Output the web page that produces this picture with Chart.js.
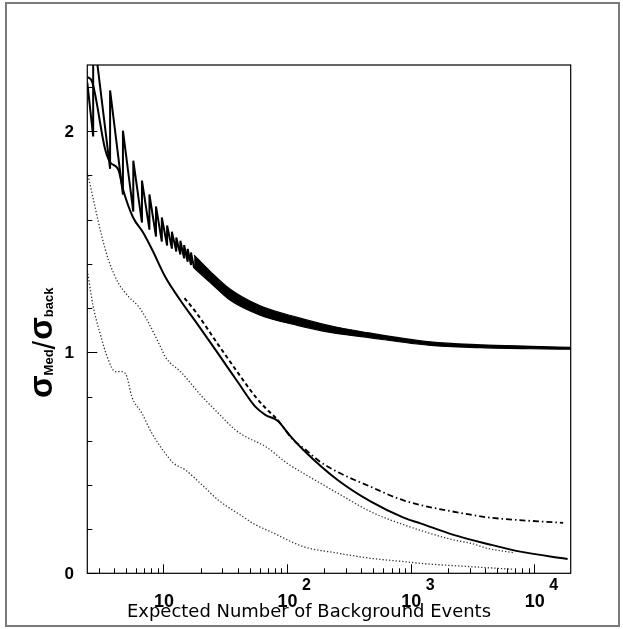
<!DOCTYPE html>
<html lang="en">
<head>
<meta charset="UTF-8" />
<title>Sigma Med / Sigma back</title>
<script src="https://cdn.jsdelivr.net/npm/chart.js"></script>
<style>
    html, body { margin: 0; padding: 0; background: #fff; }
    #wrap { width: 623px; height: 629px; }
    canvas { display: block; }
</style>
</head>
<body>
<div id="wrap"><canvas id="sigma" width="623" height="629"></canvas></div>
<script>
    // axis ranges and tick labels
    const xMin = 2.42, xMax = 19700, yMin = 0, yMax = 2.3;
    const xMajor = [10, 100, 1000, 10000];
    const xBase = ['10', '10', '10', '10'];
    const xExp = ['', '2', '3', '4'];
    const yMajor = [0, 1, 2];
    const yLabels = ['0', '1', '2'];

    // discrete (sawtooth) curve, first teeth
    const sawX = [2.42, 2.7, 2.7, 3.7, 3.7, 4.7, 4.7, 5.7, 5.7, 6.7, 6.7, 7.7, 7.7, 8.7, 8.7, 9.7, 9.7, 10.7, 10.7, 11.7, 11.7, 12.7, 12.7, 13.7, 13.7, 14.7, 14.7, 15.7, 15.7, 16.7, 16.7, 17.7];
    const sawY = [2.22, 1.977, 2.46, 1.83, 2.185, 1.714, 2.003, 1.637, 1.867, 1.587, 1.777, 1.555, 1.714, 1.524, 1.66, 1.501, 1.61, 1.483, 1.574, 1.469, 1.546, 1.456, 1.519, 1.442, 1.505, 1.425, 1.485, 1.41, 1.468, 1.395, 1.452, 1.381];

    // dense part of the sawtooth: upper / lower envelope
    const bandX = [17.7, 24, 34.7, 60.6, 121, 224, 415, 1450, 3680, 9350, 19700];
    const bandHi = [1.44, 1.365, 1.285, 1.21, 1.158, 1.12, 1.092, 1.047, 1.034, 1.027, 1.022];
    const bandLo = [1.381, 1.315, 1.235, 1.168, 1.122, 1.09, 1.07, 1.031, 1.021, 1.016, 1.014];

    // smooth solid curve
    const solidX = [2.42, 2.64, 3.37, 3.7, 4.31, 4.71, 5.68, 6.84, 8.09, 10.3, 13.6, 18.1, 27.7, 40.3, 55.3, 66.6, 83.7, 106, 135, 255, 473, 875, 1200, 2222, 4190, 7700, 18600];
    const solidY = [2.246, 2.226, 1.92, 1.86, 1.827, 1.737, 1.61, 1.542, 1.465, 1.343, 1.238, 1.141, 0.994, 0.862, 0.754, 0.717, 0.690, 0.622, 0.559, 0.423, 0.325, 0.252, 0.226, 0.174, 0.133, 0.098, 0.065];

    // dashed part, then dash-dot part
    const dashX = [14.8, 18.1, 27.7, 40.3, 55.3, 66.6, 84];
    const dashY = [1.245, 1.185, 1.035, 0.905, 0.80, 0.749, 0.695];
    const dotDashX = [84, 112, 135, 185, 255, 473, 875, 3056, 4190, 17100];
    const dotDashY = [0.695, 0.604, 0.568, 0.505, 0.459, 0.392, 0.33, 0.265, 0.253, 0.228];

    // dotted curves
    const dotAX = [2.42, 2.79, 3.17, 3.58, 4.31, 5.2, 6.27, 7.33, 9.7, 10.3, 14.1, 20.5, 27.7, 38.1, 45.9, 66.7, 100, 135, 258, 473, 875, 2222, 3056, 4190, 6820];
    const dotAY = [1.815, 1.66, 1.525, 1.42, 1.314, 1.253, 1.208, 1.148, 1.012, 0.981, 0.906, 0.80, 0.725, 0.649, 0.619, 0.574, 0.498, 0.453, 0.362, 0.279, 0.22, 0.151, 0.136, 0.113, 0.093];
    const dotBX = [2.42, 2.70, 3.06, 3.58, 4.06, 4.6, 5.05, 5.54, 6.68, 8.05, 10.3, 12.1, 15.0, 20.5, 27.7, 43.7, 54.5, 73.2, 135, 258, 473, 875, 1200, 3056, 6820];
    const dotBY = [1.37, 1.208, 1.088, 0.966, 0.913, 0.913, 0.891, 0.80, 0.725, 0.634, 0.544, 0.498, 0.468, 0.40, 0.332, 0.257, 0.222, 0.189, 0.121, 0.091, 0.068, 0.053, 0.045, 0.03, 0.018];

    const pts = (xs, ys) => xs.map((x, i) => ({ x: x, y: ys[i] }));

    const base = { showLine: true, pointRadius: 0, borderColor: '#000', fill: false };

    const datasets = [
        { ...base, label: 'saw', data: pts(sawX, sawY), borderWidth: 2, tension: 0, borderJoinStyle: 'bevel' },
        { ...base, label: 'bandHi', data: pts(bandX, bandHi), borderWidth: 1.2, cubicInterpolationMode: 'monotone' },
        { ...base, label: 'bandLo', data: pts(bandX, bandLo), borderWidth: 1.2, cubicInterpolationMode: 'monotone', fill: '-1', backgroundColor: '#000' },
        { ...base, label: 'solid', data: pts(solidX, solidY), borderWidth: 2, cubicInterpolationMode: 'monotone' },
        { ...base, label: 'dashed', data: pts(dashX, dashY), borderWidth: 2, borderDash: [4, 3], cubicInterpolationMode: 'monotone' },
        { ...base, label: 'dashdot', data: pts(dotDashX, dotDashY), borderWidth: 1.8, borderDash: [6, 3, 1.5, 3], cubicInterpolationMode: 'monotone' },
        { ...base, label: 'dotA', data: pts(dotAX, dotAY), borderWidth: 1.3, borderColor: '#333', borderDash: [1.3, 2], cubicInterpolationMode: 'monotone' },
        { ...base, label: 'dotB', data: pts(dotBX, dotBY), borderWidth: 1.3, borderColor: '#333', borderDash: [1.3, 2], cubicInterpolationMode: 'monotone' }
    ];

    // ROOT-like frame, inward ticks, labels and titles
    const rootFrame = {
        id: 'rootFrame',
        afterDraw(chart) {
            const { ctx, chartArea: a } = chart;
            const sx = chart.scales.x, sy = chart.scales.y;
            ctx.save();

            // canvas border
            ctx.strokeStyle = '#7a7a7a';
            ctx.lineWidth = 2;
            ctx.strokeRect(6, 3, 613, 623);

            // frame
            ctx.strokeStyle = '#000';
            ctx.lineWidth = 1.2;
            ctx.strokeRect(a.left, a.top, a.right - a.left, a.bottom - a.top);

            // y ticks
            ctx.lineWidth = 1;
            ctx.beginPath();
            for (let k = 0; k <= 11; k++) {
                const v = k * 0.2;
                const py = Math.round(sy.getPixelForValue(v)) + 0.5;
                const len = (k % 5 === 0) ? 10 : 5;
                ctx.moveTo(a.left, py);
                ctx.lineTo(a.left + len, py);
            }
            // x ticks
            for (let d = 0; d <= 4; d++) {
                for (let m = 1; m <= 9; m++) {
                    const v = m * Math.pow(10, d);
                    if (v < xMin || v > xMax) continue;
                    const px = Math.round(sx.getPixelForValue(v)) + 0.5;
                    const len = (m === 1) ? 9 : 5;
                    ctx.moveTo(px, a.bottom);
                    ctx.lineTo(px, a.bottom - len);
                }
            }
            ctx.stroke();

            // y labels
            ctx.fillStyle = '#000';
            ctx.font = 'bold 17px "Liberation Sans", Arial, sans-serif';
            ctx.textAlign = 'right';
            ctx.textBaseline = 'middle';
            yMajor.forEach((v, i) => {
                ctx.fillText(yLabels[i], 74, sy.getPixelForValue(v) + 1);
            });

            // x labels with exponents
            ctx.textBaseline = 'alphabetic';
            xMajor.forEach((v, i) => {
                const px = sx.getPixelForValue(v);
                ctx.font = 'bold 18px "Liberation Sans", Arial, sans-serif';
                ctx.textAlign = 'center';
                ctx.fillText(xBase[i], px + 0.5, 607);
                if (xExp[i]) {
                    ctx.font = 'bold 16px "Liberation Sans", Arial, sans-serif';
                    ctx.textAlign = 'left';
                    ctx.fillText(xExp[i], px + 15, 590);
                }
            });

            // x title
            const xt = 'Expected Number of Background Events';
            ctx.font = '17px "DejaVu Sans", sans-serif';
            ctx.textAlign = 'left';
            const w = ctx.measureText(xt).width;
            ctx.save();
            ctx.translate(127, 617);
            ctx.scale(364 / w, 1);
            ctx.fillText(xt, 0, 0);
            ctx.restore();

            // y title: sigma_Med / sigma_back, rotated
            ctx.save();
            ctx.translate(53, 398);
            ctx.rotate(-Math.PI / 2);
            ctx.textAlign = 'left';
            ctx.textBaseline = 'alphabetic';
            const big = 'bold 33px "Liberation Sans", Arial, sans-serif';
            const sub = 'bold 13px "Liberation Sans", Arial, sans-serif';
            let cx = 0;
            ctx.font = big; ctx.fillText('\u03C3', cx, -1); cx += ctx.measureText('\u03C3').width;
            ctx.font = sub; ctx.fillText('Med', cx, 0); cx += ctx.measureText('Med').width;
            ctx.font = '31px "Liberation Sans", Arial, sans-serif'; ctx.fillText('/', cx, 2); cx += ctx.measureText('/').width + 1;
            ctx.font = big; ctx.fillText('\u03C3', cx, -1); cx += ctx.measureText('\u03C3').width;
            ctx.font = sub; ctx.fillText('back', cx, 0);
            ctx.restore();

            ctx.restore();
        }
    };

    new Chart(document.getElementById('sigma'), {
        type: 'scatter',
        data: { datasets: datasets },
        options: {
            responsive: false,
            animation: false,
            devicePixelRatio: 1,
            layout: { padding: { left: 87.3, top: 65, right: 623 - 570.7, bottom: 629 - 573.3 } },
            plugins: { legend: { display: false }, tooltip: { enabled: false } },
            scales: {
                x: { type: 'logarithmic', min: xMin, max: xMax, display: false },
                y: { type: 'linear', min: yMin, max: yMax, display: false }
            }
        },
        plugins: [rootFrame]
    });
</script>
</body>
</html>
